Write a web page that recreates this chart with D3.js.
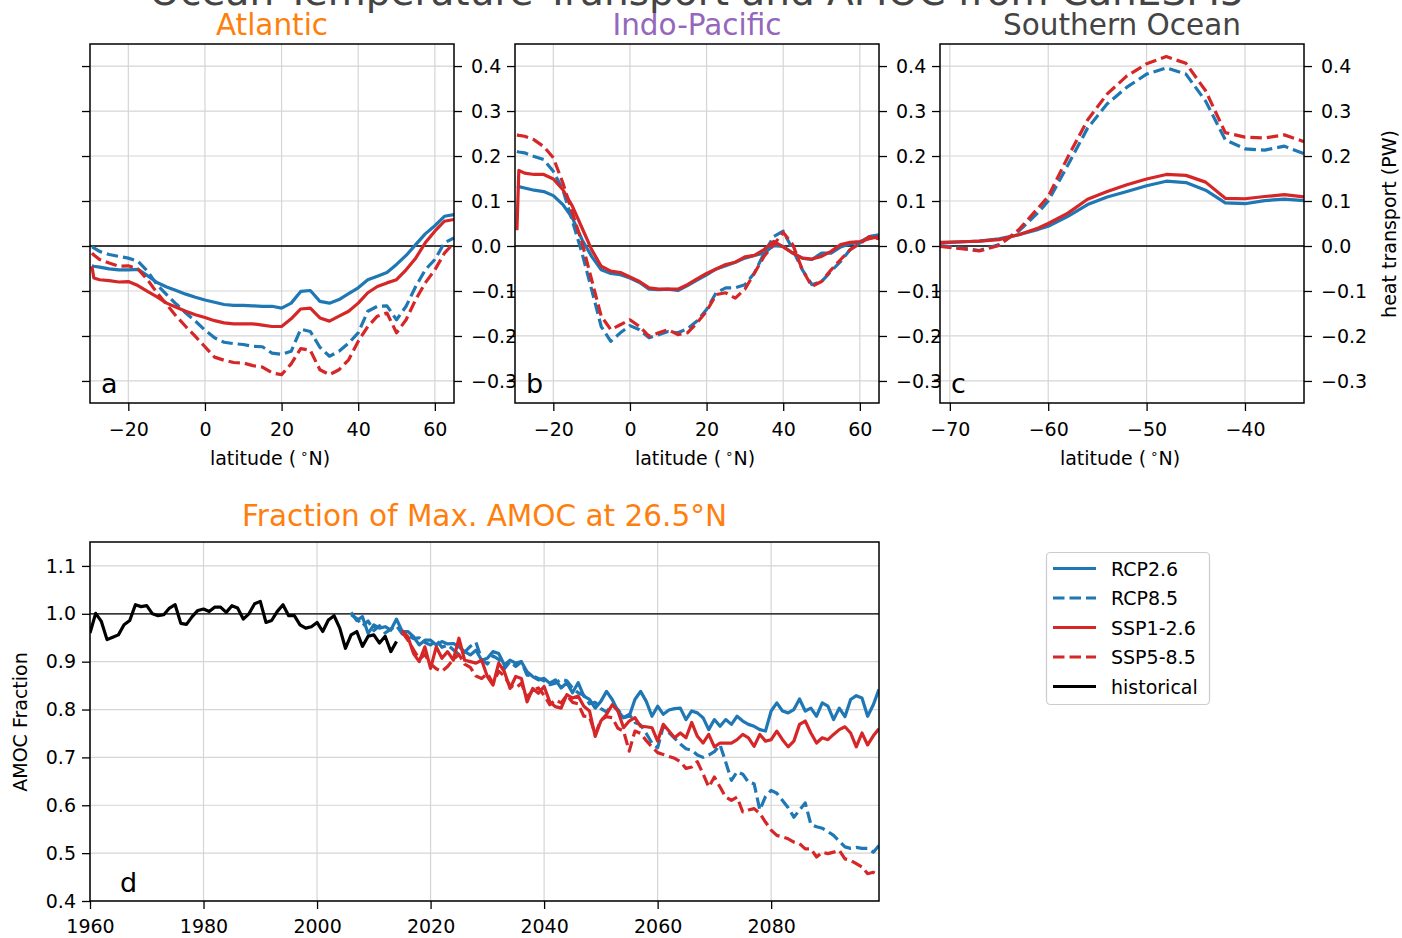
<!DOCTYPE html>
<html><head><meta charset="utf-8">
<script src="https://cdn.jsdelivr.net/npm/d3@7"></script>
<style>
body{margin:0;background:#fff;}
text{font-family:"DejaVu Sans",sans-serif;}
</style></head><body>
<svg id="c" width="1402" height="938" xmlns="http://www.w3.org/2000/svg"></svg>
<script>
// ---------------- DATA ----------------
const latAtl = [-29.5,-29,-27.5,-25,-22.5,-20,-17.5,-15,-12.5,-10,-7.5,-5,-2.5,0,2.5,5,7.5,10,12.5,15,17.5,20,22.5,25,27.5,30,32.5,35,37.5,40,42.5,45,47.5,50,52.5,55,57.5,60,62.5,65];
const atlRCP26 = [-0.044,-0.045,-0.047,-0.051,-0.053,-0.053,-0.052,-0.066,-0.081,-0.091,-0.099,-0.107,-0.114,-0.120,-0.125,-0.130,-0.132,-0.132,-0.133,-0.134,-0.134,-0.138,-0.127,-0.101,-0.099,-0.123,-0.127,-0.119,-0.106,-0.093,-0.075,-0.067,-0.059,-0.041,-0.021,0.003,0.027,0.045,0.066,0.070];
const atlRCP85 = [-0.002,-0.004,-0.012,-0.019,-0.023,-0.027,-0.034,-0.056,-0.086,-0.108,-0.129,-0.149,-0.167,-0.187,-0.204,-0.214,-0.217,-0.219,-0.223,-0.224,-0.238,-0.241,-0.234,-0.185,-0.190,-0.225,-0.245,-0.234,-0.216,-0.193,-0.145,-0.134,-0.133,-0.164,-0.134,-0.090,-0.053,-0.030,0.007,0.018];
const atlSSP126 = [-0.045,-0.071,-0.075,-0.077,-0.080,-0.079,-0.088,-0.101,-0.113,-0.127,-0.136,-0.145,-0.153,-0.159,-0.166,-0.171,-0.173,-0.173,-0.173,-0.176,-0.179,-0.179,-0.162,-0.140,-0.138,-0.160,-0.167,-0.156,-0.145,-0.127,-0.104,-0.090,-0.082,-0.075,-0.053,-0.027,0.007,0.033,0.055,0.059];
const atlSSP585 = [-0.016,-0.020,-0.030,-0.038,-0.045,-0.044,-0.051,-0.075,-0.104,-0.130,-0.156,-0.179,-0.201,-0.224,-0.247,-0.254,-0.259,-0.260,-0.266,-0.269,-0.282,-0.286,-0.262,-0.228,-0.232,-0.275,-0.286,-0.275,-0.253,-0.212,-0.179,-0.156,-0.149,-0.193,-0.164,-0.119,-0.082,-0.053,-0.016,0.007];

const latIP = [-29.5,-29,-27.5,-25,-22.5,-20,-17.5,-15,-12.5,-10,-7.5,-5,-2.5,0,2.5,5,7.5,10,12.5,15,17.5,20,22.5,25,27.5,30,32.5,35,37.5,40,42.5,45,47.5,50,52.5,55,57.5,60,62.5,65];
const ipRCP26 = [0.133,0.132,0.129,0.124,0.121,0.112,0.092,0.062,0.014,-0.023,-0.053,-0.061,-0.064,-0.071,-0.081,-0.096,-0.097,-0.096,-0.099,-0.088,-0.076,-0.064,-0.051,-0.044,-0.036,-0.027,-0.021,-0.016,0.001,-0.001,-0.016,-0.027,-0.030,-0.016,-0.016,-0.002,0.005,0.008,0.021,0.021];
const ipRCP85 = [0.210,0.209,0.207,0.199,0.192,0.166,0.125,0.055,-0.016,-0.097,-0.179,-0.212,-0.193,-0.177,-0.186,-0.204,-0.197,-0.190,-0.193,-0.184,-0.167,-0.141,-0.104,-0.093,-0.093,-0.086,-0.060,-0.016,0.021,0.033,-0.008,-0.053,-0.086,-0.079,-0.056,-0.034,-0.008,0.007,0.021,0.025];
const ipSSP126 = [0.035,0.168,0.162,0.159,0.159,0.149,0.125,0.088,0.040,-0.008,-0.045,-0.056,-0.059,-0.069,-0.079,-0.093,-0.096,-0.096,-0.096,-0.086,-0.073,-0.061,-0.051,-0.041,-0.036,-0.024,-0.021,-0.008,0.010,-0.002,-0.016,-0.027,-0.029,-0.023,-0.012,0.003,0.008,0.010,0.016,0.021];
const ipSSP585 = [0.247,0.246,0.244,0.236,0.221,0.196,0.140,0.073,0.007,-0.075,-0.156,-0.186,-0.175,-0.164,-0.179,-0.201,-0.193,-0.186,-0.197,-0.193,-0.171,-0.145,-0.108,-0.104,-0.116,-0.096,-0.060,-0.023,0.003,0.030,0.003,-0.053,-0.090,-0.079,-0.053,-0.030,-0.008,0.005,0.021,0.016];

const latSO = [-71,-68,-67,-65,-63,-61,-60,-58,-56,-54,-52,-50,-48,-46,-44,-42,-40,-38,-36,-34];
const soRCP26 = [0.007,0.010,0.011,0.016,0.025,0.037,0.044,0.066,0.092,0.109,0.121,0.134,0.144,0.141,0.124,0.096,0.094,0.101,0.104,0.101];
const soRCP85 = [0.001,-0.007,-0.010,0.003,0.033,0.075,0.100,0.180,0.262,0.316,0.353,0.382,0.396,0.382,0.322,0.236,0.216,0.213,0.222,0.205];
const soSSP126 = [0.008,0.010,0.011,0.014,0.025,0.040,0.050,0.073,0.104,0.121,0.136,0.149,0.159,0.157,0.142,0.106,0.105,0.110,0.114,0.109];
const soSSP585 = [-0.001,-0.008,-0.011,0.001,0.036,0.085,0.110,0.198,0.280,0.338,0.378,0.405,0.421,0.406,0.345,0.252,0.242,0.240,0.247,0.232];

const histStart = 1960;
const amocHist = [0.960,1.001,0.984,0.946,0.951,0.956,0.977,0.986,1.019,1.015,
  1.017,1.000,0.996,0.998,1.012,1.019,0.980,0.978,0.994,1.007,
  1.010,1.005,1.014,1.014,1.003,1.017,1.012,0.989,1.000,1.021,
  1.026,0.982,0.986,1.005,1.019,0.996,0.996,0.977,0.970,0.973,
  0.982,0.963,0.987,0.996,0.970,0.928,0.956,0.963,0.932,0.953,
  0.956,0.939,0.953,0.921,0.942];
const rcpStart = 2006;
const amocRCP26 = [1.003,0.986,0.994,0.959,0.977,0.970,0.973,0.966,0.989,0.963,
  0.963,0.952,0.935,0.945,0.945,0.935,0.942,0.937,0.938,0.931,
  0.921,0.914,0.924,0.903,0.907,0.921,0.917,0.893,0.903,0.897,
  0.900,0.879,0.869,0.862,0.865,0.855,0.862,0.845,0.856,0.835,
  0.856,0.828,0.821,0.803,0.817,0.838,0.821,0.797,0.783,0.786,
  0.821,0.838,0.817,0.786,0.807,0.790,0.799,0.802,0.803,0.779,
  0.797,0.793,0.783,0.758,0.779,0.765,0.779,0.769,0.786,0.776,
  0.769,0.765,0.758,0.755,0.797,0.814,0.797,0.793,0.800,0.822,
  0.797,0.803,0.786,0.814,0.807,0.779,0.803,0.785,0.821,0.829,
  0.824,0.786,0.810,0.842];
const amocRCP85 = [0.998,0.990,0.975,0.985,0.965,0.975,0.960,0.968,0.975,0.958,
  0.955,0.948,0.950,0.940,0.935,0.945,0.930,0.935,0.925,0.915,
  0.920,0.932,0.940,0.905,0.895,0.912,0.905,0.885,0.900,0.890,
  0.900,0.872,0.870,0.865,0.860,0.852,0.855,0.863,0.860,0.845,
  0.835,0.830,0.812,0.815,0.802,0.795,0.810,0.800,0.783,0.790,
  0.773,0.768,0.750,0.730,0.720,0.765,0.752,0.740,0.728,0.718,
  0.715,0.705,0.700,0.705,0.712,0.726,0.690,0.652,0.670,0.665,
  0.648,0.645,0.590,0.618,0.631,0.625,0.610,0.595,0.575,0.590,
  0.605,0.560,0.555,0.552,0.545,0.537,0.525,0.513,0.510,0.512,
  0.510,0.510,0.502,0.516];
const sspStart = 2015;
const amocSSP126 = [0.965,0.952,0.917,0.900,0.931,0.886,0.931,0.907,0.921,0.903,
  0.949,0.903,0.900,0.897,0.903,0.869,0.851,0.897,0.879,0.844,
  0.869,0.865,0.816,0.844,0.834,0.848,0.816,0.806,0.803,0.831,
  0.824,0.828,0.807,0.797,0.744,0.776,0.790,0.810,0.797,0.762,
  0.776,0.783,0.765,0.764,0.762,0.734,0.769,0.755,0.741,0.751,
  0.741,0.773,0.744,0.730,0.748,0.722,0.730,0.730,0.730,0.737,
  0.748,0.741,0.723,0.748,0.734,0.737,0.755,0.737,0.722,0.734,
  0.769,0.776,0.751,0.730,0.741,0.737,0.748,0.758,0.764,0.751,
  0.722,0.751,0.726,0.745,0.760];
const amocSSP585 = [0.962,0.945,0.925,0.905,0.915,0.895,0.885,0.880,0.890,0.905,
  0.915,0.895,0.888,0.870,0.865,0.875,0.855,0.880,0.870,0.850,
  0.845,0.855,0.825,0.840,0.845,0.830,0.810,0.820,0.814,0.830,
  0.815,0.812,0.786,0.785,0.748,0.778,0.785,0.783,0.761,0.755,
  0.713,0.755,0.750,0.735,0.722,0.710,0.706,0.702,0.698,0.691,
  0.677,0.680,0.691,0.666,0.638,0.659,0.638,0.617,0.610,0.617,
  0.586,0.590,0.593,0.583,0.565,0.548,0.537,0.534,0.530,0.523,
  0.520,0.509,0.509,0.492,0.502,0.499,0.502,0.506,0.488,0.485,
  0.478,0.471,0.457,0.460,0.453];

const latTicksA = [-20,0,20,40,60];
const latTicksSO = [-70,-60,-50,-40];
const heatTicks = [-0.3,-0.2,-0.1,0.0,0.1,0.2,0.3,0.4];
const yearTicks = [1960,1980,2000,2020,2040,2060,2080];
const fracTicks = [0.4,0.5,0.6,0.7,0.8,0.9,1.0,1.1];
const legendNames = ["RCP2.6","RCP8.5","SSP1-2.6","SSP5-8.5","historical"];

// ---------------- STYLE ----------------
const BLUE = "#1f77b4", RED = "#d62728", ORANGE = "#ff7f0e", PURPLE = "#9467bd", GREY = "#444444";
const LW = 3.2, DASH = "11.5,5";
const styles = {
  "RCP2.6": {c: BLUE, d: null},
  "RCP8.5": {c: BLUE, d: DASH},
  "SSP1-2.6": {c: RED, d: null},
  "SSP5-8.5": {c: RED, d: DASH},
  "historical": {c: "#000", d: null}
};
const FS = 19;
const svg = d3.select("#c");

function makePanel(id, box, xDom, yDom, xTicks, yTicks) {
  const x = d3.scaleLinear().domain(xDom).range([box.x, box.x + box.w]);
  const y = d3.scaleLinear().domain(yDom).range([box.y + box.h, box.y]);
  const g = svg.append("g");
  g.append("rect").attr("x", box.x).attr("y", box.y).attr("width", box.w).attr("height", box.h).attr("fill", "#fff");
  g.append("g").selectAll("line").data(xTicks).join("line")
    .attr("x1", d => x(d)).attr("x2", d => x(d)).attr("y1", box.y).attr("y2", box.y + box.h)
    .attr("stroke", "#d5d5d5").attr("stroke-width", 1.2);
  g.append("g").selectAll("line").data(yTicks).join("line")
    .attr("y1", d => y(d)).attr("y2", d => y(d)).attr("x1", box.x).attr("x2", box.x + box.w)
    .attr("stroke", "#d5d5d5").attr("stroke-width", 1.2);
  g.append("clipPath").attr("id", id).append("rect")
    .attr("x", box.x).attr("y", box.y).attr("width", box.w).attr("height", box.h);
  const plot = g.append("g").attr("clip-path", `url(#${id})`);
  return {g, plot, x, y, box, xTicks, yTicks};
}

function refLine(p, v) {
  p.plot.append("line").attr("x1", p.box.x).attr("x2", p.box.x + p.box.w)
    .attr("y1", p.y(v)).attr("y2", p.y(v)).attr("stroke", "#000").attr("stroke-width", 1.3);
}

function drawSeries(p, xs, ys, name) {
  const st = styles[name];
  const pts = ys.map((v, i) => [xs[i], v]);
  p.plot.append("path").datum(pts)
    .attr("d", d3.line().x(d => p.x(d[0])).y(d => p.y(d[1])))
    .attr("fill", "none").attr("stroke", st.c).attr("stroke-width", LW)
    .attr("stroke-dasharray", st.d).attr("stroke-linejoin", "round");
}

function styleAxis(sel) {
  sel.select(".domain").remove();
  sel.selectAll(".tick line").attr("stroke", "#000").attr("stroke-width", 1.3);
  sel.selectAll(".tick text").attr("font-size", FS).attr("fill", "#000")
    .attr("font-family", "DejaVu Sans");
}

function finish(p, opt) {
  const b = p.box;
  const gx = p.g.append("g").attr("transform", `translate(0,${b.y + b.h})`)
    .call(d3.axisBottom(p.x).tickValues(p.xTicks).tickSize(8).tickPadding(opt.xpad).tickFormat(d3.format("d")));
  styleAxis(gx);
  if (opt.leftLabels) {
    const gl = p.g.append("g").attr("transform", `translate(${b.x},0)`)
      .call(d3.axisLeft(p.y).tickValues(p.yTicks).tickSize(8).tickPadding(6).tickFormat(d3.format(".1f")));
    styleAxis(gl);
  } else {
    const gl = p.g.append("g").attr("transform", `translate(${b.x},0)`)
      .call(d3.axisLeft(p.y).tickValues(p.yTicks).tickSize(8).tickFormat(""));
    styleAxis(gl);
  }
  if (opt.right) {
    const gr = p.g.append("g").attr("transform", `translate(${b.x + b.w},0)`)
      .call(d3.axisRight(p.y).tickValues(p.yTicks).tickSize(8).tickPadding(9).tickFormat(d3.format(".1f")));
    styleAxis(gr);
  }
  p.g.append("rect").attr("x", b.x).attr("y", b.y).attr("width", b.w).attr("height", b.h)
    .attr("fill", "none").attr("stroke", "#000").attr("stroke-width", 1.5);
  p.g.append("text").attr("x", opt.lx).attr("y", opt.ly).attr("font-size", 27).text(opt.letter);
  if (opt.title) {
    p.g.append("text").attr("x", b.x + b.w / 2).attr("y", opt.ty).attr("text-anchor", "middle")
      .attr("font-size", 29.5).attr("fill", opt.tc).text(opt.title);
  }
  if (opt.xlabel) {
    const t = p.g.append("text").attr("x", b.x + b.w / 2 - 2).attr("y", b.y + b.h + 62)
      .attr("text-anchor", "middle").attr("font-size", FS);
    t.append("tspan").text("latitude (");
    t.append("tspan").attr("dx", 4).attr("dy", -7).attr("font-size", 13).text("\u2218");
    t.append("tspan").attr("dy", 7).text("N)");
  }
}

// ---------------- LATITUDE PANELS ----------------
const heatDom = [-0.349, 0.449];
const panels = [
  {id: "pa", box: {x: 90, y: 44, w: 364, h: 359}, dom: [-30, 65], ticks: latTicksA, lat: latAtl,
   data: [atlRCP26, atlRCP85, atlSSP126, atlSSP585], title: "Atlantic", tc: ORANGE, letter: "a"},
  {id: "pb", box: {x: 515, y: 44, w: 364, h: 359}, dom: [-30, 65], ticks: latTicksA, lat: latIP,
   data: [ipRCP26, ipRCP85, ipSSP126, ipSSP585], title: "Indo-Pacific", tc: PURPLE, letter: "b"},
  {id: "pc", box: {x: 940, y: 44, w: 364, h: 359}, dom: [-71, -34], ticks: latTicksSO, lat: latSO,
   data: [soRCP26, soRCP85, soSSP126, soSSP585], title: "Southern Ocean", tc: GREY, letter: "c"}
];
const names4 = ["RCP2.6", "RCP8.5", "SSP1-2.6", "SSP5-8.5"];
panels.forEach(P => {
  const p = makePanel(P.id, P.box, P.dom, heatDom, P.ticks, heatTicks);
  refLine(p, 0);
  P.data.forEach((arr, i) => drawSeries(p, P.lat, arr, names4[i]));
  finish(p, {right: true, leftLabels: false, letter: P.letter, lx: P.box.x + 11, ly: 393,
             title: P.title, tc: P.tc, ty: 35, xlabel: true, xpad: 12});
});

// heat transport label
svg.append("text").attr("transform", "translate(1396,224) rotate(-90)")
  .attr("text-anchor", "middle").attr("font-size", FS).text("heat transport (PW)");

// ---------------- AMOC PANEL ----------------
const pd = makePanel("pd", {x: 90, y: 542, w: 789, h: 359}, [1960, 2099], [0.4, 1.15], yearTicks, fracTicks);
refLine(pd, 1.0);
const yrs = (start, arr) => arr.map((_, i) => start + i);
drawSeries(pd, yrs(rcpStart, amocRCP26), amocRCP26, "RCP2.6");
drawSeries(pd, yrs(rcpStart, amocRCP85), amocRCP85, "RCP8.5");
drawSeries(pd, yrs(sspStart, amocSSP126), amocSSP126, "SSP1-2.6");
drawSeries(pd, yrs(sspStart, amocSSP585), amocSSP585, "SSP5-8.5");
drawSeries(pd, yrs(histStart, amocHist), amocHist, "historical");
finish(pd, {right: false, leftLabels: true, letter: "d", lx: 120, ly: 892,
            title: "Fraction of Max. AMOC at 26.5\u00b0N", tc: ORANGE, ty: 526, xlabel: false, xpad: 11});
svg.append("text").attr("transform", "translate(27,722) rotate(-90)")
  .attr("text-anchor", "middle").attr("font-size", FS).text("AMOC Fraction");

// ---------------- LEGEND ----------------
const lg = svg.append("g");
lg.append("rect").attr("x", 1046.5).attr("y", 552.5).attr("width", 163).attr("height", 152)
  .attr("rx", 4).attr("fill", "#fff").attr("stroke", "#cccccc").attr("stroke-width", 1.2);
legendNames.forEach((n, i) => {
  const yy = 568.5 + i * 29.5;
  lg.append("line").attr("x1", 1053).attr("x2", 1096).attr("y1", yy).attr("y2", yy)
    .attr("stroke", styles[n].c).attr("stroke-width", LW).attr("stroke-dasharray", styles[n].d);
  lg.append("text").attr("x", 1111).attr("y", yy + 7).attr("font-size", FS).text(n);
});

// ---------------- MAIN TITLE ----------------
svg.append("text").attr("x", 697).attr("y", 5).attr("text-anchor", "middle")
  .attr("font-size", 39).attr("fill", GREY).text("Ocean Temperature Transport and AMOC from CanESM5");
</script>
</body></html>
